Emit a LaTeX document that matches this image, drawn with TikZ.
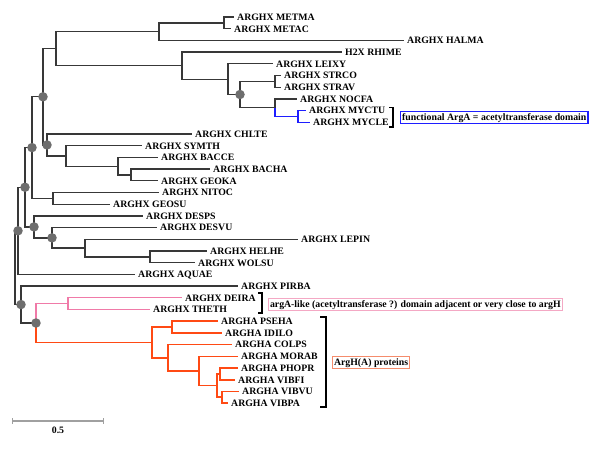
\documentclass[tikz,border=0pt]{standalone}
\usepackage{fontspec}
\setmainfont{Liberation Serif}
\usetikzlibrary{calc}
\newcommand\leaffont{\bfseries\fontsize{9.8}{11}\selectfont}
\definecolor{treeC}{HTML}{383838}
\definecolor{dotC}{HTML}{6E6E6E}
\definecolor{blueC}{HTML}{1E1EFF}
\definecolor{pinkC}{HTML}{F07AA8}
\definecolor{pinkBox}{HTML}{F4A8C4}
\definecolor{redC}{HTML}{FF4A14}
\definecolor{redBox}{HTML}{F58C6C}
\definecolor{barC}{HTML}{A0A0A0}
\tikzset{
  br/.style={draw=treeC, line width=1.3pt},
  bluebr/.style={draw=blueC, line width=1.3pt},
  pinkbr/.style={draw=pinkC, line width=1.2pt},
  redbr/.style={draw=redC, line width=1.6pt},
  leaf/.style={anchor=west, inner xsep=3pt, inner ysep=0pt, text height=6.7pt, text depth=0pt, font=\leaffont},
  dot/.style={circle, fill=dotC, inner sep=0pt, minimum size=9.5pt},
  brk/.style={draw=black, line width=1.2pt},
  note/.style={anchor=west, inner xsep=1.5pt, inner ysep=1.6pt, text height=7pt, text depth=2pt, font=\leaffont},
}
\begin{document}
\begin{tikzpicture}[x=1pt,y=-1pt]
\useasboundingbox (0,0) rectangle (600,450);
% leaves
\node[leaf] (METMA) at (234,17) {ARGHX METMA};
\node[leaf] (METAC) at (231,28.7) {ARGHX METAC};
\node[leaf] (HALMA) at (404,40.4) {ARGHX HALMA};
\node[leaf] (RHIME) at (342,52.1) {H2X RHIME};
\node[leaf] (LEIXY) at (273,63.8) {ARGHX LEIXY};
\node[leaf] (STRCO) at (281,75.5) {ARGHX STRCO};
\node[leaf] (STRAV) at (281,87.2) {ARGHX STRAV};
\node[leaf] (NOCFA) at (297,98.9) {ARGHX NOCFA};
\node[leaf] (MYCTU) at (306,110.6) {ARGHX MYCTU};
\node[leaf] (MYCLE) at (310,122.3) {ARGHX MYCLE};
\node[leaf] (CHLTE) at (192,134) {ARGHX CHLTE};
\node[leaf] (SYMTH) at (142,145.7) {ARGHX SYMTH};
\node[leaf] (BACCE) at (158,157.4) {ARGHX BACCE};
\node[leaf] (BACHA) at (210,169.1) {ARGHX BACHA};
\node[leaf] (GEOKA) at (158,180.8) {ARGHX GEOKA};
\node[leaf] (NITOC) at (159,192.5) {ARGHX NITOC};
\node[leaf] (GEOSU) at (110,204.2) {ARGHX GEOSU};
\node[leaf] (DESPS) at (143,215.9) {ARGHX DESPS};
\node[leaf] (DESVU) at (157,227.6) {ARGHX DESVU};
\node[leaf] (LEPIN) at (298,239.3) {ARGHX LEPIN};
\node[leaf] (HELHE) at (207,251) {ARGHX HELHE};
\node[leaf] (WOLSU) at (195,262.7) {ARGHX WOLSU};
\node[leaf] (AQUAE) at (135,274.4) {ARGHX AQUAE};
\node[leaf] (PIRBA) at (238,286.1) {ARGHX PIRBA};
\node[leaf] (DEIRA) at (182,297.8) {ARGHX DEIRA};
\node[leaf] (THETH) at (150,309.5) {ARGHX THETH};
\node[leaf] (PSEHA) at (218,321.2) {ARGHA PSEHA};
\node[leaf] (IDILO) at (222,332.9) {ARGHA IDILO};
\node[leaf] (COLPS) at (232,344.6) {ARGHA COLPS};
\node[leaf] (MORAB) at (238,356.3) {ARGHA MORAB};
\node[leaf] (PHOPR) at (238,368) {ARGHA PHOPR};
\node[leaf] (VIBFI) at (235,379.7) {ARGHA VIBFI};
\node[leaf] (VIBVU) at (239,391.4) {ARGHA VIBVU};
\node[leaf] (VIBPA) at (228,403.1) {ARGHA VIBPA};
% internal nodes
\coordinate (nMM) at (224,22.85);
\coordinate (n159) at (159,31.6);
\coordinate (nST) at (275,81.35);
\coordinate (nMY) at (298,116.45);
\coordinate (n276) at (275,107.7);
\coordinate (n240) at (240,94.5);
\coordinate (n228) at (228,79.15);
\coordinate (n182) at (182,65.6);
\coordinate (n56) at (56,48.6);
\coordinate (nG) at (131,174.95);
\coordinate (nB) at (118,166.2);
\coordinate (nS) at (66,155.95);
\coordinate (nC) at (47,144.97);
\coordinate (n43) at (43,96.8);
\coordinate (nNG) at (53,198.35);
\coordinate (n32) at (32,147.6);
\coordinate (nHW) at (150,256.85);
\coordinate (n85) at (85,248.1);
\coordinate (n52) at (52,237.85);
\coordinate (n34) at (34,226.9);
\coordinate (n25) at (25,187.25);
\coordinate (n18) at (18,230.8);
\coordinate (nDT) at (68,303.65);
\coordinate (nPI) at (172,327.05);
\coordinate (nU) at (220,373.85);
\coordinate (nV) at (222,397.25);
\coordinate (nT) at (217,385.55);
\coordinate (nS2) at (199,370.9);
\coordinate (nQ) at (168,357.75);
\coordinate (nR) at (152,342.4);
\coordinate (nCC) at (36,323);
\coordinate (n21) at (21,304.55);
\coordinate (root) at (15,267.7);
% black branches
\draw[br] (nMM) |- (METMA.west) (nMM) |- (METAC.west);
\draw[br] (n159) |- (nMM) (n159) |- (HALMA.west);
\draw[br] (n56) |- (n159) (n56) |- (n182);
\draw[br] (n182) |- (RHIME.west) (n182) |- (n228);
\draw[br] (n228) |- (LEIXY.west) (n228) |- (n240);
\draw[br] (n240) |- (nST) (n240) |- (n276);
\draw[br] (nST) |- (STRCO.west) (nST) |- (STRAV.west);
\draw[br] (n276) |- (NOCFA.west);
\draw[br] (n43) |- (n56) (n43) |- (nC);
\draw[br] (nC) |- (CHLTE.west) (nC) |- (nS);
\draw[br] (nS) |- (SYMTH.west) (nS) |- (nB);
\draw[br] (nB) |- (BACCE.west) (nB) |- (nG);
\draw[br] (nG) |- (BACHA.west) (nG) |- (GEOKA.west);
\draw[br] (n32) |- (n43) (n32) |- (nNG);
\draw[br] (nNG) |- (NITOC.west) (nNG) |- (GEOSU.west);
\draw[br] (n25) |- (n32) (n25) |- (n34);
\draw[br] (n34) |- (DESPS.west) (n34) |- (n52);
\draw[br] (n52) |- (DESVU.west) (n52) |- (n85);
\draw[br] (n85) |- (LEPIN.west) (n85) |- (nHW);
\draw[br] (nHW) |- (HELHE.west) (nHW) |- (WOLSU.west);
\draw[br] (n18) |- (n25) (n18) |- (AQUAE.west);
\draw[br] (root) |- (n18) (root) |- (n21);
\draw[br] (n21) |- (PIRBA.west) (n21) |- (nCC);
% blue
\draw[bluebr] (n276) |- (nMY);
\draw[bluebr] (nMY) |- (MYCTU.west) (nMY) |- (MYCLE.west);
% pink
\draw[pinkbr] (nCC) |- (nDT);
\draw[pinkbr] (nDT) |- (DEIRA.west) (nDT) |- (THETH.west);
% red
\draw[redbr] (nCC) |- (nR);
\draw[redbr] (nR) |- (nPI) (nR) |- (nQ);
\draw[redbr] (nPI) |- (PSEHA.west) (nPI) |- (IDILO.west);
\draw[redbr] (nQ) |- (COLPS.west) (nQ) |- (nS2);
\draw[redbr] (nS2) |- (MORAB.west) (nS2) |- (nT);
\draw[redbr] (nT) |- (nU) (nT) |- (nV);
\draw[redbr] (nU) |- (PHOPR.west) (nU) |- (VIBFI.west);
\draw[redbr] (nV) |- (VIBVU.west) (nV) |- (VIBPA.west);
% dots
\foreach \n in {n43,nC,n32,n25,n34,n52,n18,n21,nCC,n240}
  \node[dot] at (\n) {};
% brackets
\coordinate (bA1) at (389,107.5);
\coordinate (bA2) at (389,127);
\draw[brk] (bA1) -- ++(4,0) |- (bA2);
\coordinate (bB1) at (258,293);
\coordinate (bB2) at (258,313);
\draw[brk] (bB1) -- ++(4,0) |- (bB2);
\coordinate (bC1) at (320,317);
\coordinate (bC2) at (320,407);
\draw[brk] (bC1) -- ++(6,0) |- (bC2);
% notes
\node[note, draw=blueC, line width=1.4pt] (noteA) at (400,117.5) {functional ArgA = acetyltransferase domain};
\node[note, draw=pinkBox, line width=1pt] (noteB) at (268,304.5) {argA-like (acetyltransferase ?) domain adjacent or very close to argH};
\node[note, draw=redBox, line width=1pt] (noteC) at (332,362.5) {ArgH(A) proteins};
% scale bar
\coordinate (sb1) at (12,421);
\coordinate (sb2) at (103,421);
\draw[draw=barC, line width=1.2pt] (sb1) -- (sb2);
\draw[draw=barC, line width=1pt] ($(sb1)+(0,-3)$) -- ($(sb1)+(0,3)$) ($(sb2)+(0,-3)$) -- ($(sb2)+(0,3)$);
\node[font=\leaffont, inner sep=0pt] (sblabel) at (58,430) {0.5};
\end{tikzpicture}
\end{document}
